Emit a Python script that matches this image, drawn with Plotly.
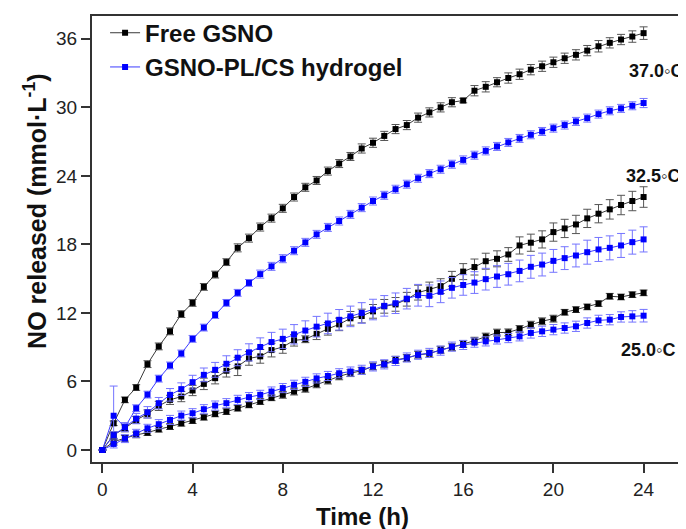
import plotly.graph_objects as go

time_h = [i * 0.5 for i in range(49)]

free_37 = [0, 2.34, 4.39, 5.47, 7.52, 9.07, 10.39, 11.9, 12.88, 14.28, 15.36, 16.45,
           17.7, 18.55, 19.52, 20.3, 21.16, 22.15, 23.0, 23.6, 24.42, 25.08, 25.7, 26.4,
           26.9, 27.5, 28.1, 28.45, 29.1, 29.56, 30.0, 30.45, 30.6, 31.46, 31.8, 32.2,
           32.57, 32.9, 33.3, 33.6, 33.95, 34.3, 34.6, 34.97, 35.35, 35.65, 35.94, 36.2, 36.5]
free_37_err = [0, 0.2, 0.25, 0.25, 0.3, 0.3, 0.3, 0.3, 0.3, 0.3, 0.3, 0.3,
               0.35, 0.35, 0.35, 0.35, 0.35, 0.35, 0.35, 0.35, 0.35, 0.35, 0.35, 0.4,
               0.4, 0.4, 0.4, 0.4, 0.4, 0.4, 0.4, 0.4, 0.2, 0.45, 0.45, 0.4,
               0.45, 0.45, 0.45, 0.45, 0.45, 0.45, 0.45, 0.45, 0.5, 0.45, 0.45, 0.5, 0.55]

gel_37 = [0, 3.0, 2.0, 3.66, 4.85, 6.25, 7.4, 8.45, 9.73, 10.72, 11.82, 12.88, 13.76,
          14.63, 15.4, 16.08, 16.75, 17.45, 18.18, 18.88, 19.49, 20.05, 20.63, 21.22,
          21.8, 22.3, 22.83, 23.27, 23.79, 24.2, 24.58, 25.02, 25.4, 25.81, 26.19, 26.58,
          26.93, 27.28, 27.6, 27.89, 28.18, 28.45, 28.77, 29.06, 29.41, 29.7, 29.91, 30.14, 30.38]
gel_37_err = [0, 2.6, 0.3, 0.3, 0.3, 0.3, 0.3, 0.3, 0.3, 0.3, 0.3, 0.3, 0.3,
              0.3, 0.35, 0.35, 0.35, 0.35, 0.35, 0.35, 0.35, 0.35, 0.35, 0.35,
              0.35, 0.35, 0.35, 0.35, 0.35, 0.35, 0.35, 0.35, 0.35, 0.35, 0.35, 0.35,
              0.35, 0.35, 0.35, 0.35, 0.35, 0.35, 0.35, 0.35, 0.35, 0.35, 0.35, 0.35, 0.4]

free_325 = [0, 1.32, 1.9, 2.63, 3.16, 3.86, 4.39, 4.68, 5.21, 5.79, 6.29, 6.94, 7.32,
            8.02, 8.2, 8.75, 9.02, 9.6, 9.7, 10.17, 10.61, 11.0, 11.53, 11.73, 12.14,
            12.58, 12.75, 13.2, 13.78, 14.05, 14.35, 14.99, 15.62, 16.02, 16.53, 16.74,
            17.12, 17.91, 18.15, 18.44, 19.08, 19.4, 19.75, 20.28, 20.69, 21.07, 21.45, 21.8, 22.15]
free_325_err = [0, 0.3, 0.3, 0.3, 0.35, 0.4, 0.4, 0.45, 0.45, 0.5, 0.5, 0.55, 0.8,
                0.6, 0.6, 0.6, 0.55, 0.5, 0.3, 0.5, 0.55, 0.55, 0.6, 0.6, 0.6,
                0.6, 0.6, 0.6, 0.65, 0.65, 0.65, 0.65, 0.7, 0.7, 0.7, 0.7,
                0.6, 0.75, 0.75, 0.75, 0.8, 0.8, 0.8, 0.8, 0.8, 0.85, 0.85, 0.85, 0.9]

gel_325 = [0, 1.3, 2.0, 2.75, 3.3, 4.1, 4.83, 5.33, 5.94, 6.58, 7.02, 7.55, 8.08, 8.55,
           9.02, 9.45, 9.73, 10.13, 10.46, 10.8, 11.08, 11.4, 11.7, 12.0, 12.3, 12.62,
           12.85, 13.25, 13.55, 13.5, 13.85, 14.2, 14.45, 14.66, 14.96, 15.19, 15.39,
           15.68, 16.04, 16.24, 16.56, 16.8, 17.03, 17.32, 17.56, 17.7, 17.91, 18.2, 18.44]
gel_325_err = [0, 0.3, 0.4, 0.45, 0.5, 0.5, 0.55, 0.55, 0.6, 0.6, 0.65, 0.7, 0.7, 0.75,
               0.8, 0.85, 0.85, 0.85, 0.85, 0.9, 0.9, 0.9, 0.9, 0.9, 0.9, 0.9,
               0.9, 0.9, 0.95, 0.95, 0.95, 0.9, 0.9, 0.95, 0.95, 0.95, 0.95,
               0.95, 1.0, 1.0, 1.0, 1.0, 1.0, 1.05, 1.05, 1.05, 1.05, 1.05, 1.1]

free_25 = [0, 0.73, 1.03, 1.32, 1.52, 1.82, 2.05, 2.34, 2.57, 2.87, 3.16, 3.36, 3.66,
           3.95, 4.24, 4.57, 4.83, 5.12, 5.36, 5.75, 6.08, 6.45, 6.73, 6.94, 7.32, 7.55,
           7.9, 8.05, 8.34, 8.43, 8.78, 9.0, 9.28, 9.57, 9.93, 10.28, 10.3, 10.6, 10.97,
           11.27, 11.5, 12.06, 12.29, 12.53, 12.82, 13.46, 13.4, 13.6, 13.76]
free_25_err = [0, 0.2, 0.25, 0.25, 0.25, 0.25, 0.25, 0.25, 0.25, 0.25, 0.25, 0.25, 0.25,
               0.25, 0.25, 0.25, 0.3, 0.3, 0.3, 0.3, 0.3, 0.3, 0.3, 0.3, 0.3, 0.3,
               0.3, 0.3, 0.3, 0.3, 0.3, 0.3, 0.3, 0.3, 0.3, 0.3, 0.3, 0.3, 0.3,
               0.3, 0.3, 0.25, 0.25, 0.25, 0.25, 0.25, 0.25, 0.25, 0.25]

gel_25 = [0, 0.53, 1.0, 1.46, 1.9, 2.26, 2.63, 3.01, 3.22, 3.57, 3.89, 4.1, 4.39, 4.63,
          4.83, 5.12, 5.42, 5.71, 5.97, 6.27, 6.48, 6.72, 6.87, 7.02, 7.32, 7.5, 7.8,
          8.1, 8.34, 8.5, 8.7, 9.05, 9.2, 9.4, 9.51, 9.68, 9.8, 9.95, 10.25, 10.39,
          10.54, 10.68, 10.83, 11.12, 11.35, 11.41, 11.65, 11.7, 11.76]
gel_25_err = [0, 0.35, 0.35, 0.35, 0.35, 0.4, 0.4, 0.4, 0.4, 0.4, 0.4, 0.4, 0.4, 0.4,
              0.4, 0.4, 0.4, 0.4, 0.4, 0.4, 0.4, 0.4, 0.4, 0.4, 0.4, 0.4, 0.4,
              0.4, 0.4, 0.4, 0.4, 0.4, 0.4, 0.4, 0.4, 0.4, 0.4, 0.4, 0.45, 0.45,
              0.45, 0.45, 0.45, 0.45, 0.45, 0.45, 0.45, 0.5, 0.55]

legend_names = ["Free GSNO", "GSNO-PL/CS hydrogel"]
temp_labels = ["37.0◦C", "32.5◦C", "25.0◦C"]
temp_label_x = [24.55, 24.4, 24.2]
temp_label_y = [33.2, 24.0, 8.8]
x_title = "Time (h)"
y_title = "NO released (mmol·L<sup>-1</sup>)"

FONT = "Arial, Liberation Sans, sans-serif"

fig = go.Figure()

styles = {
    "free": dict(line="#3a3a3a", marker="#000000", err="#555555", name=legend_names[0]),
    "gel": dict(line="#3c3cff", marker="#0000ff", err="#7474ff", name=legend_names[1]),
}

series = [
    ("free", free_37, free_37_err, True),
    ("gel", gel_37, gel_37_err, True),
    ("free", free_325, free_325_err, False),
    ("gel", gel_325, gel_325_err, False),
    ("free", free_25, free_25_err, False),
    ("gel", gel_25, gel_25_err, False),
]

for kind, ys, errs, show in series:
    st = styles[kind]
    fig.add_trace(go.Scatter(
        x=time_h, y=ys, mode="lines+markers",
        name="<b>" + st["name"] + "</b>", legendgroup=kind, showlegend=show,
        line=dict(color=st["line"], width=1),
        marker=dict(symbol="square", size=6, color=st["marker"]),
        error_y=dict(type="data", array=errs, visible=True,
                     color=st["err"], thickness=1, width=4),
    ))

for txt, tx, ty in zip(temp_labels, temp_label_x, temp_label_y):
    fig.add_annotation(x=tx, y=ty, text="<b>" + txt + "</b>", showarrow=False,
                       xanchor="center", yanchor="middle",
                       font=dict(family=FONT, size=18, color="#111111"))

# axis titles
fig.add_annotation(xref="paper", yref="paper", x=0.456, y=-0.123,
                   xanchor="center", yanchor="middle",
                   text="<b>" + x_title + "</b>", showarrow=False,
                   font=dict(family=FONT, size=24, color="#111111"))
fig.add_annotation(xref="paper", yref="paper", x=-0.096, y=0.563,
                   xanchor="center", yanchor="middle",
                   text="<b>" + y_title + "</b>", showarrow=False, textangle=-90,
                   font=dict(family=FONT, size=25, color="#111111"))

fig.update_layout(
    width=678, height=521,
    margin=dict(l=84, r=0, t=8, b=67, autoexpand=False),
    paper_bgcolor="white", plot_bgcolor="white",
    font=dict(family=FONT, color="#222222"),
    legend=dict(x=0.022, y=1.012, xanchor="left", yanchor="top",
                bgcolor="rgba(0,0,0,0)", tracegroupgap=0,
                font=dict(family=FONT, size=24, color="#111111"),
                itemwidth=30),
    showlegend=True,
)

fig.update_xaxes(
    range=[-0.46, 25.88], tickmode="array", tickvals=[0, 4, 8, 12, 16, 20, 24],
    ticks="outside", ticklen=9, tickwidth=1.5, tickcolor="#333333",
    showline=True, linewidth=2, linecolor="#333333", mirror=True,
    showgrid=False, zeroline=False, automargin=False,
    tickfont=dict(family=FONT, size=19, color="#222222"),
)
fig.update_yaxes(
    range=[-1.05, 38.0], tickmode="array", tickvals=[0, 6, 12, 18, 24, 30, 36],
    ticks="outside", ticklen=9, tickwidth=1.5, tickcolor="#333333",
    showline=True, linewidth=2, linecolor="#333333", mirror=False,
    showgrid=False, zeroline=False, automargin=False,
    tickfont=dict(family=FONT, size=19, color="#222222"),
)

fig.write_html("out.html")
